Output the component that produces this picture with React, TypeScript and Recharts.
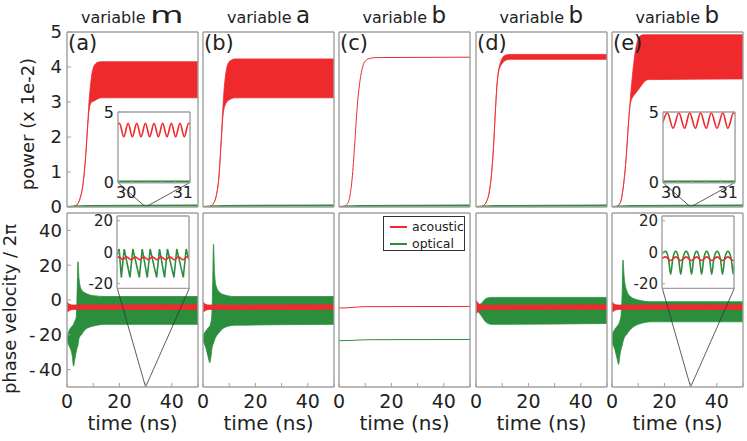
import React from 'react';
import { ComposedChart, Area, Line, XAxis, YAxis, ReferenceLine } from 'recharts';

type Band = [number, number, number];
type Pt = [number, number];

// ---------- labels / ticks ----------
const TITLE_VARS = ['m', 'a', 'b', 'b', 'b'];
const PANEL_TAGS = ['(a)', '(b)', '(c)', '(d)', '(e)'];
const TIME_TICKS = [0, 10, 20, 30, 40, 50];
const TIME_LABELS = [0, 20, 40];
const POWER_TICKS = [0, 1, 2, 3, 4, 5];
const PHASE_TICKS = [-40, -20, 0, 20, 40];
const INSET_TIME_TICKS = [30, 30.2, 30.4, 30.6, 30.8, 31];
const INSET_POWER_TICKS = [0, 5];
const INSET_PHASE_TICKS = [-20, 0, 20];
const LEGEND_NAMES = ['acoustic', 'optical'];

// ---------- power (x 1e-2): red envelopes [t, low, high] ----------
const powerRedA: Band[] = [[0,0,0],[2,0.01,0.01],[3,0.03,0.03],[4,0.08,0.08],[5,0.25,0.25],[6,0.6,0.6],[7,1.3,1.35],[8,2.4,2.5],[8.5,2.8,3.1],[9,2.95,3.5],[9.5,3.0,3.8],[10,3.02,3.97],[11,3.06,4.1],[12,3.1,4.14],[13,3.12,4.15],[50,3.12,4.15]];
const powerRedB: Band[] = [[0,0,0],[2,0.01,0.01],[3,0.03,0.03],[4,0.1,0.1],[5,0.3,0.3],[6,0.8,0.8],[7,1.9,2.0],[7.5,2.5,2.7],[8,2.8,3.3],[8.5,2.92,3.7],[9,3.0,3.95],[10,3.06,4.15],[11,3.1,4.2],[12,3.12,4.23],[50,3.12,4.23]];
const powerRedC: Pt[] = [[0,0],[2,0.02],[3,0.07],[4,0.25],[5,0.8],[6,1.8],[7,2.9],[8,3.6],[9,4.0],[10,4.17],[12,4.25],[15,4.27],[50,4.28]];
const powerRedD: Band[] = [[0,0,0],[2,0.01,0.01],[3,0.05,0.05],[4,0.15,0.15],[5,0.4,0.4],[6,1.0,1.0],[6.6,1.6,1.6],[7.3,2.6,2.6],[8,3.45,3.5],[8.5,3.8,3.85],[9.2,4.0,4.1],[10,4.1,4.25],[11,4.18,4.33],[13,4.22,4.36],[50,4.22,4.36]];
const powerRedE: Band[] = [[0,0,0],[1.5,0.01,0.01],[2.5,0.05,0.05],[3.5,0.2,0.2],[4.3,0.57,0.57],[5.5,1.5,1.5],[6.3,2.4,2.4],[7,2.95,3.1],[8,3.15,3.9],[9,3.25,4.5],[10,3.35,4.8],[11,3.45,4.9],[12,3.55,4.92],[14,3.64,4.92],[50,3.66,4.92]];
const powerGreen: Pt[] = [[0,0],[8,0.03],[50,0.04]];

// ---------- phase velocity / 2pi: envelopes [t, low, high] ----------
const phaseRedA: Band[] = [[0,-7,-1],[0.8,-6.2,-2.3],[1.6,-5.6,-2.8],[2.5,-5.4,-2.9],[50,-5.4,-2.8]];
const phaseGreenA: Band[] = [[0,-24,-21],[1,-27,-17],[2,-32,-15],[2.5,-38,-14],[3,-34,-12],[3.5,-30,-10],[3.8,-28,0],[4.2,-26,22],[4.6,-22,12],[5.5,-20,6],[7,-17,4],[10,-15,2.5],[15,-14,2],[50,-14,2]];
const phaseRedB: Band[] = [[0,-7,-1],[0.8,-6.2,-2.3],[1.6,-5.6,-2.8],[2.5,-5.4,-2.9],[50,-5.4,-2.8]];
const phaseGreenB: Band[] = [[0,-24,-20],[1,-27,-18],[2,-33,-16],[2.6,-36,-15],[3,-33,-13],[3.4,-28,-8],[3.7,-26,10],[4.0,-25,32],[4.4,-23,16],[5,-21,8],[6,-19,5],[8,-16,3],[12,-14.5,2],[50,-14,2]];
const phaseRedC: Pt[] = [[0,-4.6],[3,-4.5],[10,-3.8],[50,-3.7]];
const phaseGreenC: Pt[] = [[0,-23.4],[5,-23.2],[12,-22.8],[50,-22.7]];
const phaseRedD: Band[] = [[0,-8,0],[1,-6.5,-2],[2.5,-5.5,-3],[50,-5.3,-2.8]];
const phaseGreenD: Band[] = [[0,-5,-4],[2,-9,-2],[4,-13,1],[6,-14,1.5],[50,-13.5,1.5]];
const phaseRedE: Band[] = [[0,-7,-1],[0.8,-6.2,-2.3],[1.6,-5.6,-2.8],[2.5,-5.4,-2.9],[50,-5.4,-2.8]];
const phaseGreenE: Band[] = [[0,-25,-20],[1,-28,-17],[2,-34,-15],[2.5,-37,-14],[3,-32,-12],[3.5,-28,-8],[3.9,-26,5],[4.2,-24,23],[4.6,-22,14],[5.5,-20,6],[7,-17,2],[10,-14,0],[15,-12.5,-1],[50,-12.5,-1]];

// ---------- insets (t = 30..31 ns) ----------
const insetPowerRedA: Pt[] = [[30,4.1],[30.02,4.2],[30.08,3.25],[30.14,4.2],[30.2,3.25],[30.26,4.2],[30.32,3.25],[30.38,4.2],[30.44,3.25],[30.5,4.2],[30.56,3.25],[30.62,4.2],[30.68,3.25],[30.74,4.2],[30.8,3.25],[30.86,4.2],[30.92,3.25],[30.98,4.2],[31,4.15]];
const insetPowerRedE: Pt[] = [[30,4.3],[30.06,4.95],[30.14,3.85],[30.22,4.95],[30.3,3.85],[30.37,4.95],[30.45,3.85],[30.52,4.95],[30.6,3.85],[30.67,4.95],[30.75,3.85],[30.83,4.95],[30.9,3.85],[30.98,4.95],[31,4.85]];
const insetPowerGreen: Pt[] = [[30,0.08],[31,0.08]];
const insetPhaseGreenA: Pt[] = [[30,-2],[30.03,2],[30.06,-16],[30.1,2],[30.18,-16],[30.22,2],[30.31,-16],[30.35,2],[30.42,-16],[30.46,2],[30.55,-16],[30.59,2],[30.66,-16],[30.7,2],[30.79,-16],[30.83,2],[30.92,-16],[30.96,2],[31,-5]];
const insetPhaseRedA: Pt[] = [[30,-3.5],[30.03,-3],[30.08,-4.8],[30.13,-3],[30.2,-4.8],[30.25,-3],[30.32,-4.8],[30.37,-3],[30.44,-4.8],[30.49,-3],[30.56,-4.8],[30.61,-3],[30.68,-4.8],[30.73,-3],[30.8,-4.8],[30.85,-3],[30.92,-4.8],[30.97,-3],[31,-3.8]];
const insetPhaseGreenE: Pt[] = [[30,-1],[30.05,0.5],[30.09,-4],[30.12,-14],[30.15,-4],[30.19,0.5],[30.23,-4],[30.26,-14],[30.29,-4],[30.335,0.5],[30.38,-4],[30.41,-14],[30.44,-4],[30.48,0.5],[30.52,-4],[30.55,-14],[30.58,-4],[30.62,0.5],[30.66,-4],[30.69,-14],[30.72,-4],[30.765,0.5],[30.81,-4],[30.84,-14],[30.87,-4],[30.915,0.5],[30.96,-4],[30.99,-14],[31,-8]];
const insetPhaseRedE: Pt[] = [[30,-4],[30.05,-3],[30.12,-5.3],[30.19,-3],[30.26,-5.3],[30.335,-3],[30.41,-5.3],[30.48,-3],[30.55,-5.3],[30.62,-3],[30.69,-5.3],[30.765,-3],[30.84,-5.3],[30.915,-3],[30.99,-5.3],[31,-5]];

// ---------- styling / layout ----------
const RED = '#ee2a2d';
const GREEN = '#2b8e3d';
const FRAME = '#a0a0a0';
const TEXT = '#222';
const FONT = '"DejaVu Sans", Verdana, sans-serif';
const PANEL_X = [67, 203, 339, 476, 612];
const PANEL_W = 131;
const TOP_Y = 32, TOP_H = 175;
const BOT_Y = 213, BOT_H = 174;
const M = { top: 12, right: 12, bottom: 40, left: 60 };
const IM = { top: 14, right: 12, bottom: 24, left: 34 };
const shrink = (m: typeof M) => ({ top: m.top - 1, right: m.right - 1, bottom: m.bottom - 1, left: m.left - 1 });

const bandData = (b: Band[]) => b.map(([t, lo, hi]) => ({ t, v: [lo, hi] }));
const lineData = (p: Pt[]) => p.map(([t, v]) => ({ t, v }));

type Series = { kind: 'band' | 'line'; color: string; band?: Band[]; pts?: Pt[]; width?: number; curve?: any };

function renderSeries(s: Series[], xId: string, yId: string) {
  return s.map((ser, i) =>
    ser.kind === 'band' ? (
      <Area key={i} xAxisId={xId} yAxisId={yId} data={bandData(ser.band!)} dataKey="v" type="monotone"
        stroke={ser.color} strokeWidth={0.8} fill={ser.color} fillOpacity={1} isAnimationActive={false} dot={false} activeDot={false} />
    ) : (
      <Line key={i} xAxisId={xId} yAxisId={yId} data={lineData(ser.pts!)} dataKey="v" type={ser.curve || 'monotone'}
        stroke={ser.color} strokeWidth={ser.width || 1.2} dot={false} activeDot={false} isAnimationActive={false} />
    )
  );
}

const axisLine = { stroke: FRAME, strokeWidth: 1.4 };
const tickLine = { stroke: FRAME, strokeWidth: 1 };

type PanelProps = {
  left: number; top: number; width: number; height: number;
  yDomain: [number, number]; yTicks: number[]; yLabels: boolean; xLabels: boolean;
  series: Series[]; connector?: { t0: number; t1: number; v: number; tp: number; vp: number };
  yFmt?: (v: number) => string;
};

function Panel(p: PanelProps) {
  const tickStyle = { fill: TEXT, fontSize: 18, fontFamily: FONT };
  return (
    <div style={{ position: 'absolute', left: p.left - M.left, top: p.top - M.top }}>
      <ComposedChart width={p.width + M.left + M.right} height={p.height + M.top + M.bottom} margin={shrink(M)}>
        <XAxis xAxisId="b" type="number" dataKey="t" domain={[0, 50]} ticks={TIME_TICKS} interval={0} orientation="bottom" height={1}
          axisLine={axisLine} tickLine={tickLine} tickSize={-4} tickMargin={12}
          tick={p.xLabels ? { ...tickStyle, fontSize: 19 } : false}
          tickFormatter={(v: number) => (TIME_LABELS.includes(v) ? String(v) : '')} allowDataOverflow />
        <XAxis xAxisId="t" type="number" dataKey="t" domain={[0, 50]} ticks={TIME_TICKS} interval={0} orientation="top" height={1}
          axisLine={axisLine} tickLine={tickLine} tickSize={-4} tick={false} allowDataOverflow />
        <YAxis yAxisId="l" type="number" domain={p.yDomain} ticks={p.yTicks} interval={0} orientation="left" width={1}
          axisLine={axisLine} tickLine={tickLine} tickSize={-4} tickMargin={9}
          tick={p.yLabels ? tickStyle : false} tickFormatter={p.yFmt} allowDataOverflow />
        <YAxis yAxisId="r" type="number" domain={p.yDomain} ticks={p.yTicks} interval={0} orientation="right" width={1}
          axisLine={axisLine} tickLine={tickLine} tickSize={-4} tick={false} allowDataOverflow />
        {renderSeries(p.series, 'b', 'l')}
        {p.connector && (
          <ReferenceLine xAxisId="b" yAxisId="l" ifOverflow="visible" stroke="#333" strokeWidth={0.8}
            segment={[{ x: p.connector.t0, y: p.connector.v }, { x: p.connector.tp, y: p.connector.vp }]} />
        )}
        {p.connector && (
          <ReferenceLine xAxisId="b" yAxisId="l" ifOverflow="visible" stroke="#333" strokeWidth={0.8}
            segment={[{ x: p.connector.t1, y: p.connector.v }, { x: p.connector.tp, y: p.connector.vp }]} />
        )}
      </ComposedChart>
    </div>
  );
}

const InsetXTick = (props: any) => {
  const { x, y, payload } = props;
  const v = payload.value;
  if (v !== 30 && v !== 31) return <g />;
  return (
    <text x={v === 30 ? x - 2 : x + 3} y={y} dy="0.71em" textAnchor={v === 30 ? 'start' : 'end'}
      fill={TEXT} fontSize={16} fontFamily={FONT}>{v}</text>
  );
};

type InsetProps = {
  left: number; top: number; width: number; height: number;
  yDomain: [number, number]; yTicks: number[]; xLabels: boolean; series: Series[]; fontSize: number;
};

function Inset(p: InsetProps) {
  return (
    <div style={{ position: 'absolute', left: p.left - IM.left, top: p.top - IM.top }}>
      <ComposedChart width={p.width + IM.left + IM.right} height={p.height + IM.top + IM.bottom} margin={shrink(IM)}>
        <XAxis xAxisId="b" type="number" dataKey="t" domain={[30, 31]} ticks={INSET_TIME_TICKS} interval={0} orientation="bottom" height={1}
          axisLine={axisLine} tickLine={tickLine} tickSize={-3} tickMargin={7}
          tick={p.xLabels ? <InsetXTick /> : false} allowDataOverflow />
        <XAxis xAxisId="t" type="number" dataKey="t" domain={[30, 31]} ticks={INSET_TIME_TICKS} interval={0} orientation="top" height={1}
          axisLine={axisLine} tickLine={tickLine} tickSize={-3} tick={false} allowDataOverflow />
        <YAxis yAxisId="l" type="number" domain={p.yDomain} ticks={p.yTicks} interval={0} orientation="left" width={1}
          axisLine={axisLine} tickLine={tickLine} tickSize={-3} tickMargin={7}
          tick={{ fill: TEXT, fontSize: p.fontSize, fontFamily: FONT }} allowDataOverflow />
        <YAxis yAxisId="r" type="number" domain={p.yDomain} ticks={p.yTicks} interval={0} orientation="right" width={1}
          axisLine={axisLine} tickLine={tickLine} tickSize={-3} tick={false} allowDataOverflow />
        {renderSeries(p.series, 'b', 'l')}
      </ComposedChart>
    </div>
  );
}

// inset boxes in the host panel's data coordinates
const TOP_INSET_BOX = { t0: 19.4, t1: 46.9, v0: 0.7, v1: 2.72 };
const BOT_INSET_BOX = { t0: 19.2, t1: 46.7, v0: 6.7, v1: 48.3 };

function insetRect(px: number, py: number, ph: number, yDom: [number, number], box: typeof TOP_INSET_BOX) {
  const sx = (t: number) => px + (t / 50) * PANEL_W;
  const sy = (v: number) => py + ((yDom[1] - v) / (yDom[1] - yDom[0])) * ph;
  return { left: sx(box.t0), top: sy(box.v1), width: sx(box.t1) - sx(box.t0), height: sy(box.v0) - sy(box.v1) };
}

export default function App() {
  const topSeries: Series[][] = [
    [{ kind: 'line', color: GREEN, pts: powerGreen, width: 2 }, { kind: 'band', color: RED, band: powerRedA }],
    [{ kind: 'line', color: GREEN, pts: powerGreen, width: 2 }, { kind: 'band', color: RED, band: powerRedB }],
    [{ kind: 'line', color: GREEN, pts: powerGreen, width: 2 }, { kind: 'line', color: RED, pts: powerRedC, width: 1 }],
    [{ kind: 'line', color: GREEN, pts: powerGreen, width: 2 }, { kind: 'band', color: RED, band: powerRedD }],
    [{ kind: 'line', color: GREEN, pts: powerGreen, width: 2 }, { kind: 'band', color: RED, band: powerRedE }],
  ];
  const botSeries: Series[][] = [
    [{ kind: 'band', color: GREEN, band: phaseGreenA }, { kind: 'band', color: RED, band: phaseRedA }],
    [{ kind: 'band', color: GREEN, band: phaseGreenB }, { kind: 'band', color: RED, band: phaseRedB }],
    [{ kind: 'line', color: GREEN, pts: phaseGreenC, width: 1 }, { kind: 'line', color: RED, pts: phaseRedC, width: 1 }],
    [{ kind: 'band', color: GREEN, band: phaseGreenD }, { kind: 'band', color: RED, band: phaseRedD }],
    [{ kind: 'band', color: GREEN, band: phaseGreenE }, { kind: 'band', color: RED, band: phaseRedE }],
  ];
  const insetCols = [0, 4];
  const topInsetSeries: Series[][] = [
    [{ kind: 'line', color: GREEN, pts: insetPowerGreen, width: 2 }, { kind: 'line', color: RED, pts: insetPowerRedA, width: 1.6 }],
    [{ kind: 'line', color: GREEN, pts: insetPowerGreen, width: 2 }, { kind: 'line', color: RED, pts: insetPowerRedE, width: 1.6 }],
  ];
  const botInsetSeries: Series[][] = [
    [{ kind: 'line', color: GREEN, pts: insetPhaseGreenA, width: 1.6, curve: 'linear' }, { kind: 'line', color: RED, pts: insetPhaseRedA, width: 1.6 }],
    [{ kind: 'line', color: GREEN, pts: insetPhaseGreenE, width: 1.6 }, { kind: 'line', color: RED, pts: insetPhaseRedE, width: 1.6 }],
  ];
  const varWidths: Record<string, number> = { m: 34, a: 14, b: 15 };
  const phaseFmt = (v: number) => (v < 0 ? '-\u2009' + String(-v) : String(v));

  return (
    <div style={{ position: 'absolute', left: 0, top: 0, width: 747, height: 441, background: '#fff', overflow: 'hidden', fontFamily: FONT }}>
      {PANEL_X.map((px, i) => (
        <Panel key={'t' + i} left={px} top={TOP_Y} width={PANEL_W} height={TOP_H} yDomain={[0, 5]} yTicks={POWER_TICKS}
          yLabels={i === 0} xLabels={false} series={topSeries[i]}
          connector={insetCols.includes(i) ? { t0: TOP_INSET_BOX.t0, t1: TOP_INSET_BOX.t1, v: TOP_INSET_BOX.v0, tp: 30, vp: 0 } : undefined} />
      ))}
      {PANEL_X.map((px, i) => (
        <Panel key={'b' + i} left={px} top={BOT_Y} width={PANEL_W} height={BOT_H} yDomain={[-50, 50]} yTicks={PHASE_TICKS}
          yLabels={i === 0} xLabels={true} series={botSeries[i]} yFmt={phaseFmt}
          connector={insetCols.includes(i) ? { t0: BOT_INSET_BOX.t0, t1: BOT_INSET_BOX.t1, v: BOT_INSET_BOX.v0, tp: 30, vp: -50 } : undefined} />
      ))}
      {insetCols.map((c, k) => {
        const r = insetRect(PANEL_X[c], TOP_Y, TOP_H, [0, 5], TOP_INSET_BOX);
        return <Inset key={'ti' + k} {...r} yDomain={[0, 5]} yTicks={INSET_POWER_TICKS} xLabels={true} series={topInsetSeries[k]} fontSize={16} />;
      })}
      {insetCols.map((c, k) => {
        const r = insetRect(PANEL_X[c], BOT_Y, BOT_H, [-50, 50], BOT_INSET_BOX);
        return <Inset key={'bi' + k} {...r} yDomain={[-23, 23]} yTicks={INSET_PHASE_TICKS} xLabels={false} series={botInsetSeries[k]} fontSize={15} />;
      })}
      {/* legend in panel (c), bottom row */}
      <div style={{ position: 'absolute', left: 383, top: 216, width: 82, height: 35, border: '1px solid #333', background: '#fff', boxSizing: 'border-box' }}>
        {LEGEND_NAMES.map((n, i) => (
          <div key={n} style={{ position: 'absolute', left: 6, top: 2 + i * 17, height: 15, display: 'flex', alignItems: 'center', fontSize: 12.5, color: TEXT, whiteSpace: 'nowrap' }}>
            <span style={{ display: 'inline-block', width: 17, height: 2, background: i === 0 ? RED : GREEN, marginRight: 5 }} />
            {n}
          </div>
        ))}
      </div>
      {/* text overlay */}
      <svg width={747} height={441} style={{ position: 'absolute', left: 0, top: 0, pointerEvents: 'none' }}>
        {PANEL_X.map((px, i) => {
          const lw = varWidths[TITLE_VARS[i]];
          const total = 64 + 5 + lw;
          const start = px + PANEL_W / 2 - total / 2;
          const lx = start + 69;
          return (
            <g key={'title' + i}>
              <text x={start} y={23} fontSize={16} fontFamily={FONT} fill={TEXT}>variable</text>
              <text x={0} y={0} fontSize={23} fontFamily={FONT} fill={TEXT}
                transform={`translate(${lx},23) scale(${TITLE_VARS[i] === 'm' ? 1.5 : 1},1)`}>{TITLE_VARS[i]}</text>
              <text x={px + 1} y={50} fontSize={21} fontFamily={FONT} fill={TEXT}>{PANEL_TAGS[i]}</text>
              <text x={px + PANEL_W / 2} y={430} fontSize={20} fontFamily={FONT} fill={TEXT} textAnchor="middle">time (ns)</text>
            </g>
          );
        })}
        <text x={34} y={124} fontSize={18} fontFamily={FONT} fill={TEXT} textAnchor="middle" transform="rotate(-90 34 124)">power (x 1e-2)</text>
        <text x={16} y={309} fontSize={18} fontFamily={FONT} fill={TEXT} textAnchor="middle" transform="rotate(-90 16 309)">phase velocity / 2π</text>
      </svg>
    </div>
  );
}
